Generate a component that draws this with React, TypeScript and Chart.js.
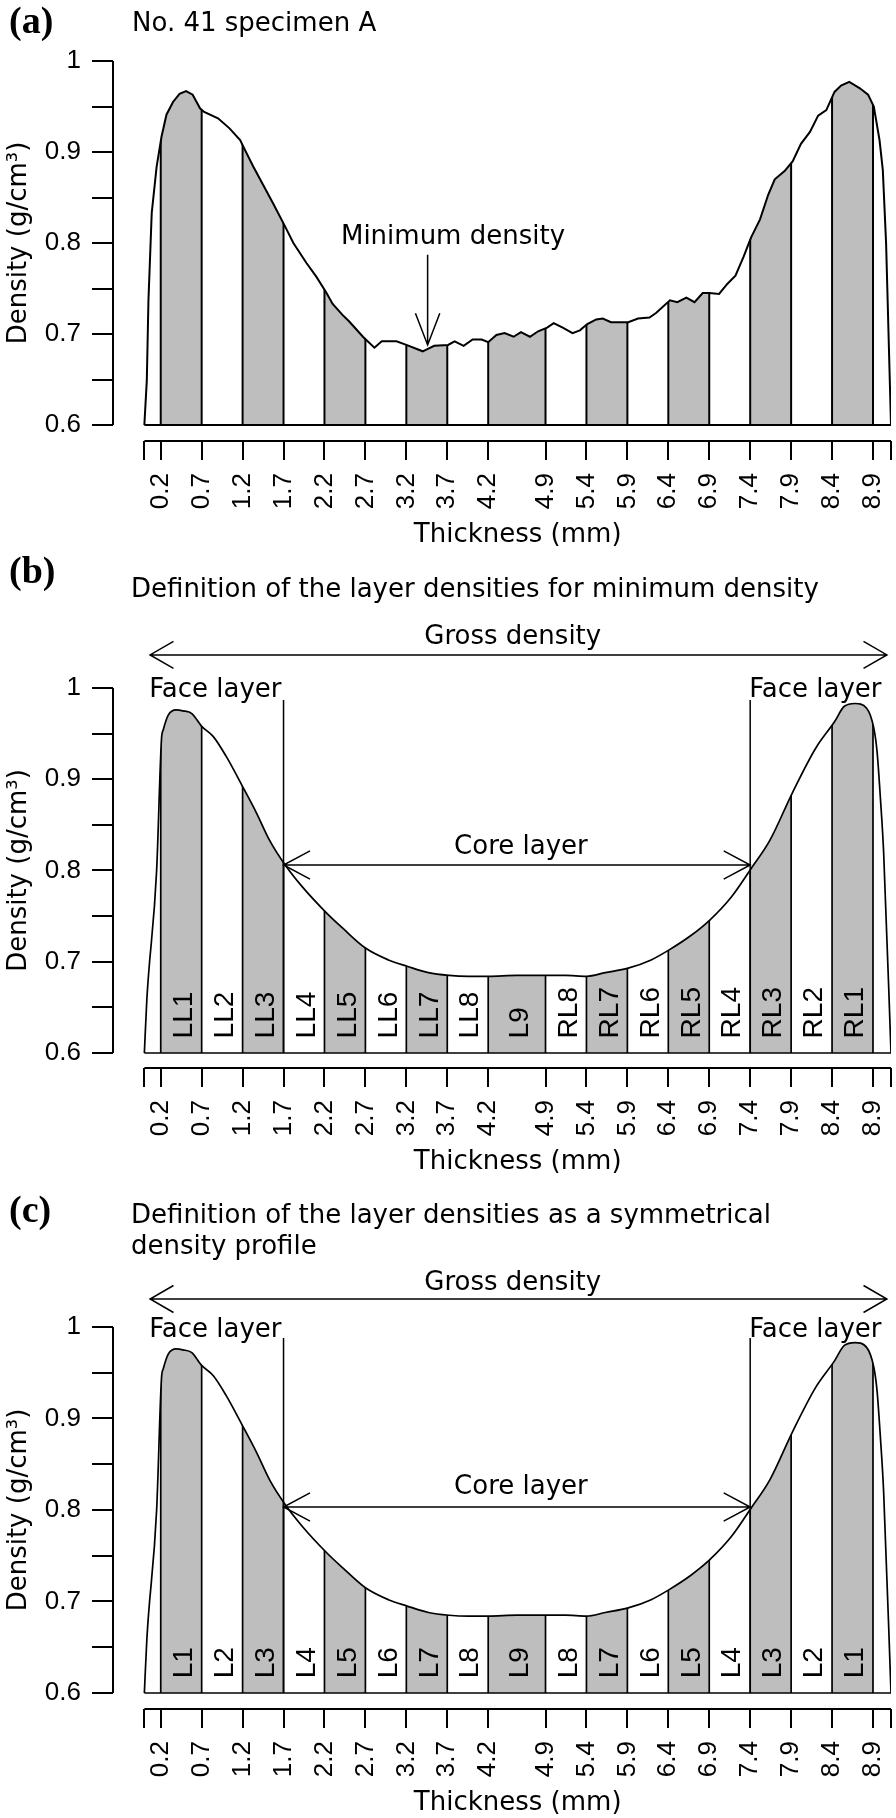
import React, { useEffect, useRef } from 'react';
import { Chart, registerables } from 'chart.js';

Chart.register(...registerables);

// ---------------- data ----------------
const X_TICKS = [0, 0.2, 0.7, 1.2, 1.7, 2.2, 2.7, 3.2, 3.7, 4.2, 4.9, 5.4, 5.9, 6.4, 6.9, 7.4, 7.9, 8.4, 8.9, 9.12];
const Y_TICKS = [0.6, 0.65, 0.7, 0.75, 0.8, 0.85, 0.9, 0.95, 1.0];
const LAYER_BOUNDS = [0.2, 0.7, 1.2, 1.7, 2.2, 2.7, 3.2, 3.7, 4.2, 4.9, 5.4, 5.9, 6.4, 6.9, 7.4, 7.9, 8.4, 8.9];
const LABELS_B = ['LL1', 'LL2', 'LL3', 'LL4', 'LL5', 'LL6', 'LL7', 'LL8', 'L9', 'RL8', 'RL7', 'RL6', 'RL5', 'RL4', 'RL3', 'RL2', 'RL1'];
const LABELS_C = ['L1', 'L2', 'L3', 'L4', 'L5', 'L6', 'L7', 'L8', 'L9', 'L8', 'L7', 'L6', 'L5', 'L4', 'L3', 'L2', 'L1'];

// (a) measured density profile, No. 41 specimen A
const THICK_A = [0, 0.03, 0.05, 0.09, 0.15, 0.21, 0.27, 0.35, 0.43, 0.51, 0.59, 0.68, 0.73, 0.90, 1.04, 1.17, 1.23, 1.33, 1.45, 1.57,
  1.72, 1.82, 1.98, 2.10, 2.22, 2.30, 2.42, 2.50, 2.67, 2.81, 2.90, 3.08, 3.20, 3.40, 3.47, 3.54, 3.71, 3.79, 3.90, 4.01,
  4.12, 4.20, 4.30, 4.40, 4.51, 4.60, 4.71, 4.81, 4.92, 5.00, 5.11, 5.23, 5.32, 5.41, 5.52, 5.60, 5.70, 5.91, 6.03, 6.17,
  6.25, 6.42, 6.51, 6.62, 6.72, 6.82, 6.90, 7.02, 7.12, 7.22, 7.32, 7.41, 7.52, 7.62, 7.70, 7.82, 7.92, 8.02, 8.13, 8.23,
  8.33, 8.43, 8.51, 8.61, 8.74, 8.84, 8.91, 8.98, 9.02, 9.06, 9.12];
const DENS_A = [0.600, 0.649, 0.737, 0.833, 0.884, 0.917, 0.941, 0.955, 0.964, 0.967, 0.963, 0.948, 0.944, 0.937, 0.926, 0.913, 0.902, 0.884, 0.864, 0.844,
  0.818, 0.800, 0.778, 0.763, 0.746, 0.733, 0.721, 0.714, 0.697, 0.685, 0.692, 0.692, 0.688, 0.681, 0.684, 0.687, 0.688, 0.692, 0.687, 0.694,
  0.694, 0.691, 0.699, 0.701, 0.697, 0.702, 0.697, 0.703, 0.707, 0.712, 0.707, 0.701, 0.704, 0.711, 0.716, 0.717, 0.713, 0.713, 0.717, 0.718,
  0.723, 0.737, 0.735, 0.740, 0.735, 0.745, 0.745, 0.744, 0.755, 0.764, 0.785, 0.806, 0.826, 0.853, 0.870, 0.879, 0.890, 0.909, 0.922, 0.940,
  0.946, 0.966, 0.973, 0.977, 0.970, 0.963, 0.950, 0.913, 0.880, 0.800, 0.600];

// (b), (c) smoothed density profile
const THICK_BC = [0, 0.03, 0.15, 0.21, 0.23, 0.29, 0.39, 0.47, 0.58, 0.70, 0.84, 1.00, 1.20, 1.37, 1.53, 1.72, 1.93, 2.23, 2.42, 2.70,
  2.98, 3.21, 3.47, 3.72, 3.96, 4.20, 4.55, 4.92, 5.14, 5.40, 5.63, 5.91, 6.19, 6.41, 6.68, 6.91, 7.17, 7.41, 7.64, 7.92,
  8.20, 8.43, 8.55, 8.68, 8.82, 8.91, 8.95, 8.99, 9.03, 9.12];
const DENS_BC = [0.600, 0.658, 0.800, 0.945, 0.954, 0.970, 0.976, 0.975, 0.972, 0.958, 0.947, 0.925, 0.892, 0.863, 0.833, 0.806, 0.782, 0.753, 0.737, 0.715,
  0.702, 0.695, 0.688, 0.685, 0.684, 0.684, 0.685, 0.685, 0.685, 0.684, 0.688, 0.693, 0.702, 0.713, 0.729, 0.746, 0.771, 0.802, 0.833, 0.886,
  0.934, 0.963, 0.980, 0.983, 0.978, 0.956, 0.930, 0.880, 0.820, 0.600];

const BASE = 0.6;
const X_MIN = -0.383;
const X_MAX = 9.12;
const FACE_LEFT = 1.7;
const FACE_RIGHT = 7.4;
const MIN_DENSITY_X = 3.46;
const MIN_DENSITY_Y = 0.688;

// ---------------- styles ----------------
const GRAY = '#bebebe';
const FONT_TEXT = '"DejaVu Sans", sans-serif';
const FONT_NUM = '"Liberation Sans", Arial, sans-serif';
const FONT_TAG = '"Liberation Serif", "Times New Roman", serif';

const PANELS: any[] = [
  {
    key: 'a', top: 0, height: 565, padTop: 61, padBottom: 24, yMin: 0.58242,
    xs: THICK_A, ys: DENS_A, smooth: false, lineW: 2,
    tag: '(a)', tagBase: 33, titles: ['No. 41 specimen A'], titleX: 132, titleY: [24], xTitleY: 535,
    labels: null,
  },
  {
    key: 'b', top: 540, height: 680, padTop: 148, padBottom: 52, yMin: 0.58356,
    xs: THICK_BC, ys: DENS_BC, smooth: true, lineW: 1.7,
    tag: '(b)', tagBase: 43, titles: ['Definition of the layer densities for minimum density'], titleX: 131, titleY: [50], xTitleY: 622,
    labels: LABELS_B,
    gross: { y: 1.0362, textY: 1.0559 }, face: { textY: 0.9978, lineTop: 0.9868 }, core: { y: 0.806, textY: 0.8258 },
  },
  {
    key: 'c', top: 1180, height: 638, padTop: 147, padBottom: 9, yMin: 0.58251,
    xs: THICK_BC, ys: DENS_BC, smooth: true, lineW: 1.7,
    tag: '(c)', tagBase: 42, titles: ['Definition of the layer densities as a symmetrical', 'density profile'], titleX: 131, titleY: [36, 67], xTitleY: 623,
    labels: LABELS_C,
    gross: { y: 1.0306, textY: 1.048 }, face: { textY: 0.9967, lineTop: 0.988 }, core: { y: 0.8033, textY: 0.825 },
  },
];

function drawArrow(ctx: any, x1: number, y1: number, x2: number, y2: number, headStart: boolean, headEnd: boolean, len: number, angDeg: number) {
  ctx.beginPath();
  ctx.moveTo(x1, y1);
  ctx.lineTo(x2, y2);
  const a = (angDeg * Math.PI) / 180;
  const head = (tx: number, ty: number, fx: number, fy: number) => {
    const ang = Math.atan2(fy - ty, fx - tx);
    ctx.moveTo(tx + len * Math.cos(ang + a), ty + len * Math.sin(ang + a));
    ctx.lineTo(tx, ty);
    ctx.lineTo(tx + len * Math.cos(ang - a), ty + len * Math.sin(ang - a));
  };
  if (headStart) head(x1, y1, x2, y2);
  if (headEnd) head(x2, y2, x1, y1);
  ctx.stroke();
}

function makeDecor(cfg: any) {
  return {
    id: 'decor_' + cfg.key,
    beforeDatasetsDraw(chart: any) {
      const { ctx, chartArea } = chart;
      const xs = chart.scales.x;
      const ys = chart.scales.y;
      const yBase = ys.getPixelForValue(BASE);
      const line: any = chart.getDatasetMeta(0).dataset;
      ctx.save();
      ctx.beginPath();
      if (line && typeof line.path === 'function') {
        if (typeof line.updateControlPoints === 'function') line.updateControlPoints(chartArea, 'x');
        line.path(ctx);
      } else {
        cfg.xs.forEach((x: number, i: number) => {
          const px = xs.getPixelForValue(x);
          const py = ys.getPixelForValue(cfg.ys[i]);
          if (i) ctx.lineTo(px, py); else ctx.moveTo(px, py);
        });
      }
      ctx.closePath();
      ctx.clip();
      ctx.fillStyle = GRAY;
      for (let i = 0; i < LAYER_BOUNDS.length - 1; i += 2) {
        const x0 = xs.getPixelForValue(LAYER_BOUNDS[i]);
        const x1 = xs.getPixelForValue(LAYER_BOUNDS[i + 1]);
        ctx.fillRect(x0, chartArea.top - 5, x1 - x0, yBase - chartArea.top + 5);
      }
      ctx.strokeStyle = '#000';
      ctx.lineWidth = cfg.lineW;
      ctx.beginPath();
      for (const b of LAYER_BOUNDS) {
        const px = xs.getPixelForValue(b);
        ctx.moveTo(px, yBase);
        ctx.lineTo(px, chartArea.top - 5);
      }
      ctx.stroke();
      ctx.restore();
    },
    afterDatasetsDraw(chart: any) {
      const { ctx, chartArea } = chart;
      const xs = chart.scales.x;
      const ys = chart.scales.y;
      ctx.save();
      ctx.strokeStyle = '#000';
      ctx.fillStyle = '#000';
      ctx.lineWidth = 2;
      // axis lines (R style, detached)
      ctx.beginPath();
      ctx.moveTo(chartArea.left, ys.getPixelForValue(Y_TICKS[0]));
      ctx.lineTo(chartArea.left, ys.getPixelForValue(Y_TICKS[Y_TICKS.length - 1]));
      ctx.moveTo(xs.getPixelForValue(X_TICKS[0]), chartArea.bottom);
      ctx.lineTo(xs.getPixelForValue(X_TICKS[X_TICKS.length - 1]), chartArea.bottom);
      ctx.stroke();

      // axis titles
      ctx.font = `26px ${FONT_TEXT}`;
      ctx.textAlign = 'center';
      ctx.textBaseline = 'middle';
      ctx.fillText('Thickness (mm)', xs.getPixelForValue(X_MAX / 2), cfg.xTitleY);
      ctx.save();
      ctx.translate(19.5, ys.getPixelForValue(0.8));
      ctx.rotate(-Math.PI / 2);
      ctx.fillText('Density (g/cm\u00B3)', 0, 0);
      ctx.restore();

      // panel tag + titles
      ctx.textAlign = 'left';
      ctx.textBaseline = 'alphabetic';
      ctx.font = `bold 38px ${FONT_TAG}`;
      ctx.fillText(cfg.tag, 9, cfg.tagBase);
      ctx.font = `26px ${FONT_TEXT}`;
      ctx.textBaseline = 'middle';
      cfg.titles.forEach((t: string, i: number) => ctx.fillText(t, cfg.titleX, cfg.titleY[i]));

      ctx.lineWidth = 1.5;
      if (cfg.key === 'a') {
        ctx.textAlign = 'center';
        ctx.fillText('Minimum density', xs.getPixelForValue(3.77), ys.getPixelForValue(0.8066));
        const px = xs.getPixelForValue(MIN_DENSITY_X);
        drawArrow(ctx, px, ys.getPixelForValue(0.787), px, ys.getPixelForValue(MIN_DENSITY_Y), false, true, 34, 21);
      } else {
        // gross density
        drawArrow(ctx, xs.getPixelForValue(0.07), ys.getPixelForValue(cfg.gross.y), xs.getPixelForValue(9.07), ys.getPixelForValue(cfg.gross.y), true, true, 27, 30);
        ctx.textAlign = 'center';
        ctx.fillText('Gross density', xs.getPixelForValue(4.5), ys.getPixelForValue(cfg.gross.textY));
        // face layers
        const fl = xs.getPixelForValue(FACE_LEFT);
        const fr = xs.getPixelForValue(FACE_RIGHT);
        ctx.beginPath();
        ctx.moveTo(fl, ys.getPixelForValue(cfg.face.lineTop));
        ctx.lineTo(fl, ys.getPixelForValue(BASE));
        ctx.moveTo(fr, ys.getPixelForValue(cfg.face.lineTop));
        ctx.lineTo(fr, ys.getPixelForValue(BASE));
        ctx.stroke();
        ctx.textAlign = 'right';
        ctx.fillText('Face layer', fl - 2, ys.getPixelForValue(cfg.face.textY));
        ctx.textAlign = 'left';
        ctx.fillText('Face layer', fr - 1, ys.getPixelForValue(cfg.face.textY));
        // core layer
        const cy = ys.getPixelForValue(cfg.core.y);
        drawArrow(ctx, fl, cy, fr, cy, true, true, 30, 28);
        ctx.textAlign = 'center';
        ctx.fillText('Core layer', xs.getPixelForValue(4.6), ys.getPixelForValue(cfg.core.textY));
        // layer labels
        ctx.font = `28px ${FONT_NUM}`;
        ctx.textAlign = 'left';
        ctx.textBaseline = 'middle';
        cfg.labels.forEach((lab: string, i: number) => {
          const cx = xs.getPixelForValue((LAYER_BOUNDS[i] + LAYER_BOUNDS[i + 1]) / 2) + 3;
          ctx.save();
          ctx.translate(cx, ys.getPixelForValue(0.616));
          ctx.rotate(-Math.PI / 2);
          ctx.fillText(lab, 0, 0);
          ctx.restore();
        });
      }
      ctx.restore();
    },
  };
}

function Panel({ cfg }: { cfg: any }) {
  const ref = useRef<HTMLCanvasElement>(null);
  useEffect(() => {
    const canvas = ref.current;
    if (!canvas) return;
    const chart = new Chart(canvas, {
      type: 'scatter',
      data: {
        datasets: [
          {
            label: 'density',
            data: cfg.xs.map((x: number, i: number) => ({ x, y: cfg.ys[i] })),
            showLine: true,
            pointRadius: 0,
            borderColor: '#000',
            borderWidth: cfg.lineW,
            tension: cfg.smooth ? 0.4 : 0,
            cubicInterpolationMode: cfg.smooth ? 'monotone' : 'default',
            fill: false,
          } as any,
          {
            label: 'base',
            data: [
              { x: cfg.xs[0], y: BASE },
              { x: cfg.xs[cfg.xs.length - 1], y: BASE },
            ],
            showLine: true,
            pointRadius: 0,
            borderColor: '#000',
            borderWidth: cfg.lineW,
            fill: false,
          } as any,
        ],
      },
      options: {
        animation: false,
        responsive: false,
        devicePixelRatio: 1,
        events: [],
        layout: { padding: { top: cfg.padTop, bottom: cfg.padBottom, left: 0, right: 5 } },
        plugins: { legend: { display: false }, tooltip: { enabled: false }, title: { display: false } },
        scales: {
          x: {
            type: 'linear',
            min: X_MIN,
            max: X_MAX,
            afterBuildTicks: (s: any) => { s.ticks = X_TICKS.map((v) => ({ value: v })); },
            afterFit: (s: any) => { s.height = 100; s.paddingLeft = 0; s.paddingRight = 0; },
            ticks: {
              autoSkip: false,
              minRotation: 90,
              maxRotation: 90,
              padding: 13,
              color: '#000',
              font: { family: FONT_NUM, size: 26 },
              callback: (v: any) => (v === X_TICKS[0] || v === X_TICKS[X_TICKS.length - 1] ? '' : Number(v).toFixed(1)),
            },
            grid: { drawOnChartArea: false, drawTicks: true, tickLength: 19, color: '#000', lineWidth: 2 },
            border: { display: false },
          },
          y: {
            type: 'linear',
            min: cfg.yMin,
            max: 1,
            afterBuildTicks: (s: any) => { s.ticks = Y_TICKS.map((v) => ({ value: v })); },
            afterFit: (s: any) => { s.width = 113; },
            ticks: {
              padding: 11,
              color: '#000',
              font: { family: FONT_NUM, size: 26 },
              callback: (v: any) => {
                const n = Number(v);
                if (Math.abs(n - 1) < 1e-9) return '1';
                return Math.round(n * 100) % 10 === 0 ? n.toFixed(1) : '';
              },
            },
            grid: { drawOnChartArea: false, drawTicks: true, tickLength: 21, color: '#000', lineWidth: 2 },
            border: { display: false },
          },
        },
      } as any,
      plugins: [makeDecor(cfg)],
    });
    return () => chart.destroy();
  }, [cfg]);
  return (
    <canvas
      ref={ref}
      width={896}
      height={cfg.height}
      style={{ position: 'absolute', left: 0, top: cfg.top, width: 896, height: cfg.height }}
    />
  );
}

export default function App() {
  return (
    <div style={{ position: 'absolute', left: 0, top: 0, width: 896, height: 1818, background: '#fff', overflow: 'hidden' }}>
      {PANELS.map((p) => (
        <Panel key={p.key} cfg={p} />
      ))}
    </div>
  );
}
